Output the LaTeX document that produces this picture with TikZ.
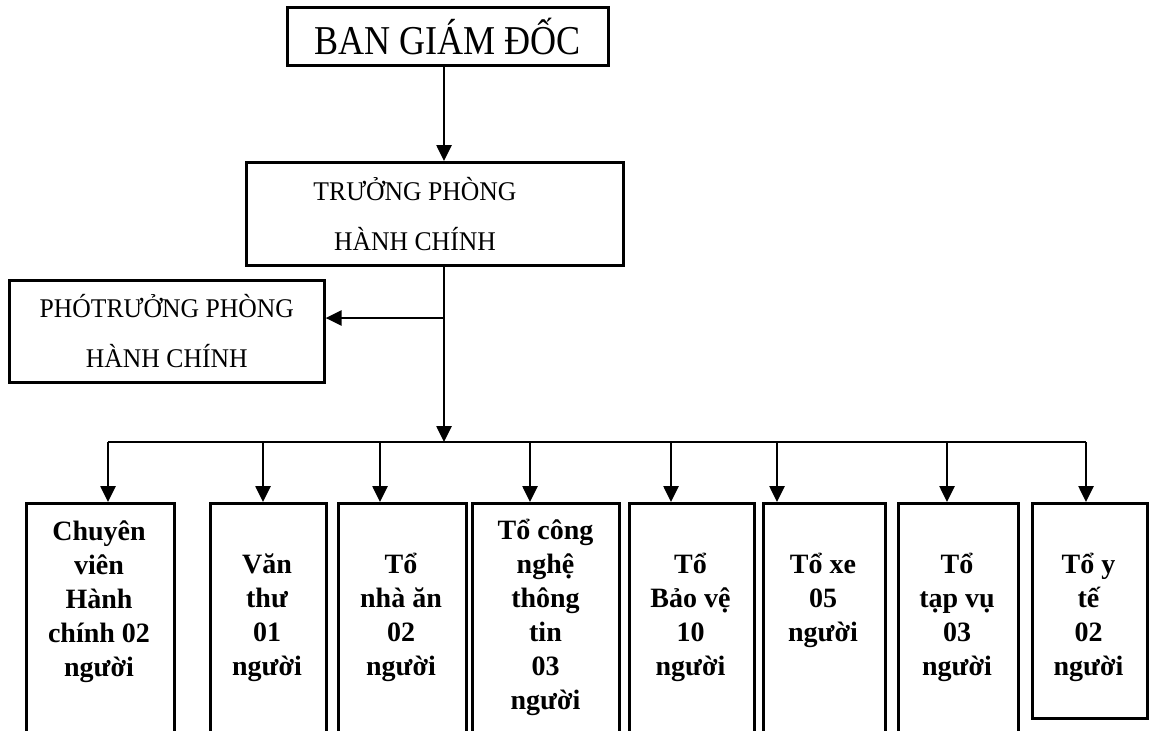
\documentclass[tikz,border=0pt]{standalone}
\usepackage{fontspec}
\setmainfont{Liberation Serif}
\newfontfamily\headfont[FakeStretch=0.88]{Liberation Serif}
\newfontfamily\midfont[FakeStretch=0.95]{Liberation Serif}
\usetikzlibrary{arrows.meta}

\tikzset{
  box/.style={draw, line width=2.6pt, inner sep=0pt, anchor=north west, align=center},
  arr/.style={line width=2.6pt, -{Triangle[length=16pt,width=15pt]}},
  bus/.style={line width=2.6pt},
  lbl/.style={anchor=base, inner sep=0pt, font=\fontsize{28}{34}\selectfont\bfseries},
  head/.style={font=\headfont\fontsize{41}{48}\selectfont},
  mid/.style={font=\midfont\fontsize{27}{50}\selectfont, align=center, inner sep=0pt},
}

\begin{document}
\begin{tikzpicture}[x=1pt, y=-1pt]
\useasboundingbox (0,0) rectangle (1152,731);

% upper levels
\node[box, head, minimum width=321pt, minimum height=58pt] (bgd) at (286,6) {BAN GIÁM ĐỐC};
\node[box, minimum width=377pt, minimum height=103pt] (tp) at (245,161) {};
\node[mid] (tpt) at (415,214) {TRƯỞNG PHÒNG\\HÀNH CHÍNH};
\node[box, mid, minimum width=315pt, minimum height=102pt] (pp) at (8,279) {PHÓTRƯỞNG PHÒNG\\HÀNH CHÍNH};

% units
\node[box, minimum width=148pt, minimum height=240pt] (b1) at (25,502) {};
\node[box, minimum width=116pt, minimum height=240pt] (b2) at (209,502) {};
\node[box, minimum width=128pt, minimum height=240pt] (b3) at (337,502) {};
\node[box, minimum width=147pt, minimum height=240pt] (b4) at (471,502) {};
\node[box, minimum width=125pt, minimum height=240pt] (b5) at (628,502) {};
\node[box, minimum width=122pt, minimum height=240pt] (b6) at (762,502) {};
\node[box, minimum width=120pt, minimum height=240pt] (b7) at (897,502) {};
\node[box, minimum width=115pt, minimum height=215pt] (b8) at (1031,502) {};

\node[lbl] (t1) at (99,540) {\begin{tabular}[t]{@{}c@{}}Chuyên\\viên\\Hành\\chính 02\\người\end{tabular}};
\node[lbl] (t2) at (267,573) {\begin{tabular}[t]{@{}c@{}}Văn\\thư\\01\\người\end{tabular}};
\node[lbl] (t3) at (401,573) {\begin{tabular}[t]{@{}c@{}}Tổ\\nhà ăn\\02\\người\end{tabular}};
\node[lbl] (t4) at (545.5,539) {\begin{tabular}[t]{@{}c@{}}Tổ công\\nghệ\\thông\\tin\\03\\người\end{tabular}};
\node[lbl] (t5) at (690.5,573) {\begin{tabular}[t]{@{}c@{}}Tổ\\Bảo vệ\\10\\người\end{tabular}};
\node[lbl] (t6) at (823,573) {\begin{tabular}[t]{@{}c@{}}Tổ xe\\05\\người\end{tabular}};
\node[lbl] (t7) at (957,573) {\begin{tabular}[t]{@{}c@{}}Tổ\\tạp vụ\\03\\người\end{tabular}};
\node[lbl] (t8) at (1088.5,573) {\begin{tabular}[t]{@{}c@{}}Tổ y\\tế\\02\\người\end{tabular}};

% junction points
\coordinate (trunk) at (444,0);
\coordinate (branch) at (444,318);
\coordinate (hub) at (444,442);
\coordinate (c1) at (108,442);
\coordinate (c2) at (263,442);
\coordinate (c3) at (380,442);
\coordinate (c4) at (530,442);
\coordinate (c5) at (671,442);
\coordinate (c6) at (777,442);
\coordinate (c7) at (947,442);
\coordinate (c8) at (1086,442);

% connectors
\draw[arr] (bgd.south -| trunk) -- (tp.north -| trunk);
\draw[arr] (tp.south -| trunk) -- (hub);
\draw[arr] (branch) -- (pp.east |- branch);
\draw[bus] (c1) -- (c8);
\foreach \i in {1,...,8} {
  \draw[arr] (c\i) -- (b\i.north -| c\i);
}
\end{tikzpicture}
\end{document}
